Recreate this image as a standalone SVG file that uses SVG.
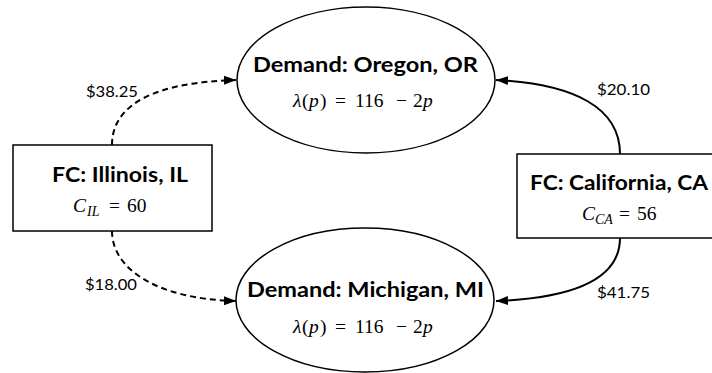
<svg xmlns="http://www.w3.org/2000/svg" width="712" height="373" viewBox="0 0 712 373">
<style>
.node{fill:#fff;stroke:#000;stroke-width:1.5}
.title{font-family:Lato,"Open Sans","Liberation Sans",sans-serif;font-weight:bold;font-size:21.5px;fill:#000}
.math{font-family:"Liberation Serif","DejaVu Serif",serif;font-size:19.5px;fill:#000}
.it{font-style:italic}
.sub{font-family:"Liberation Serif","DejaVu Serif",serif;font-style:italic;font-size:14px}
.lbl{font-family:Lato,"Open Sans","Liberation Sans",sans-serif;font-size:16px;fill:#000}
.edge{fill:none;stroke:#000;stroke-width:2}
.dash{stroke-dasharray:6,4}
</style>
<defs>
<marker id="arr" markerUnits="userSpaceOnUse" markerWidth="13" markerHeight="10" refX="12" refY="5" orient="auto">
<path d="M0,0.5 L12,5 L0,9.5 z" fill="#000"/>
</marker>
</defs>
<g id="connectors">
<path class="edge dash" d="M112,145 C112,102 160,82 236,80" marker-end="url(#arr)"/>
<path class="edge dash" d="M112,231 C112,268 155,299 236,301" marker-end="url(#arr)"/>
<path class="edge" d="M620,154 C620,108 575,84 496,80" marker-end="url(#arr)"/>
<path class="edge" d="M620,238 C620,278 575,298 496,301" marker-end="url(#arr)"/>
<text class="lbl" x="86" y="97" textLength="52" lengthAdjust="spacingAndGlyphs">$38.25</text>
<text class="lbl" x="85" y="290" textLength="52" lengthAdjust="spacingAndGlyphs">$18.00</text>
<text class="lbl" x="597" y="95" textLength="53" lengthAdjust="spacingAndGlyphs">$20.10</text>
<text class="lbl" x="597" y="298" textLength="53" lengthAdjust="spacingAndGlyphs">$41.75</text>
</g>
<g id="oregon">
<ellipse class="node" cx="366" cy="80" rx="129" ry="73"/>
<text class="title" x="253" y="72" textLength="225" lengthAdjust="spacingAndGlyphs">Demand: Oregon, OR</text>
<text class="math" y="107"><tspan class="it" x="293">λ</tspan><tspan x="302">(</tspan><tspan class="it" x="309">p</tspan><tspan x="320">)</tspan><tspan x="335">=</tspan><tspan x="355">116</tspan><tspan x="396">−</tspan><tspan x="413">2</tspan><tspan class="it" x="423">p</tspan></text>
</g>
<g id="michigan">
<ellipse class="node" cx="365" cy="300" rx="129" ry="72"/>
<text class="title" x="247" y="297" textLength="237" lengthAdjust="spacingAndGlyphs">Demand: Michigan, MI</text>
<text class="math" y="333"><tspan class="it" x="293">λ</tspan><tspan x="302">(</tspan><tspan class="it" x="309">p</tspan><tspan x="320">)</tspan><tspan x="335">=</tspan><tspan x="355">116</tspan><tspan x="396">−</tspan><tspan x="413">2</tspan><tspan class="it" x="423">p</tspan></text>
</g>
<g id="illinois">
<rect class="node" x="13" y="145" width="199" height="86"/>
<text class="title" x="52" y="182" textLength="136" lengthAdjust="spacingAndGlyphs">FC: Illinois, IL</text>
<text class="math" y="212"><tspan class="it" x="73">C</tspan><tspan class="sub" x="87" y="216">IL</tspan><tspan x="109" y="212">=</tspan><tspan x="127">60</tspan></text>
</g>
<g id="california">
<rect class="node" x="517" y="154" width="200" height="84"/>
<text class="title" x="530" y="190" textLength="178" lengthAdjust="spacingAndGlyphs">FC: California, CA</text>
<text class="math" y="220"><tspan class="it" x="582">C</tspan><tspan class="sub" x="595" y="224">CA</tspan><tspan x="619" y="220">=</tspan><tspan x="637">56</tspan></text>
</g>
</svg>
